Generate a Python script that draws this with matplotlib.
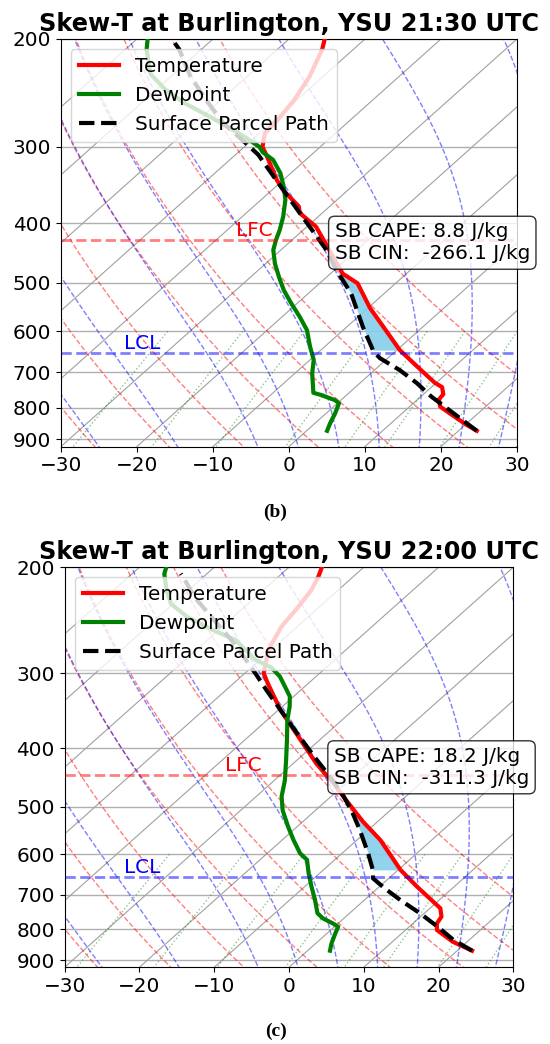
import numpy as np
import matplotlib
matplotlib.use('Agg')
import matplotlib.pyplot as plt
from matplotlib.transforms import Affine2D
from matplotlib.collections import LineCollection
from matplotlib.ticker import NullLocator

plt.rcParams['font.size'] = 14.4

# ---- panel (b): 21:30 UTC ----
title_b = 'Skew-T at Burlington, YSU 21:30 UTC'
p_temp_b = [872, 853, 817, 796, 775, 760, 740, 728, 685, 644, 590, 550, 501, 483, 437,
            405, 385, 375, 355, 340, 311, 300, 285, 271, 252, 230, 208, 200]
temp_b = [22.4, 20.2, 16.3, 14.0, 12.8, 12.6, 11.4, 9.8, 5.1, 0.4, -5.2, -9.7, -15.0, -18.4, -24.3,
          -28.8, -32.9, -34.1, -38.1, -40.8, -45.6, -47.6, -49.3, -49.6, -50.3, -51.8, -54.1, -55.3]
p_dew_b = [872, 848, 817, 786, 777, 762, 756, 729, 703, 668, 636, 597, 568, 540, 514, 489, 465,
           442, 426, 410, 390, 366, 348, 331, 315, 306, 300, 285, 268, 255, 242, 228, 208, 200]
dew_b = [2.7, 2.0, 1.2, 0.2, -0.8, -3.4, -4.7, -6.2, -7.7, -9.5, -11.9, -14.8, -17.7, -20.8, -23.7,
         -26.3, -28.8, -31.0, -32.1, -33.1, -34.6, -36.8, -39.0, -41.4, -44.3, -46.8, -48.0, -52.7,
         -58.9, -64.1, -68.8, -73.1, -77.2, -78.6]
p_parcel_b = [872, 767, 729, 694, 664, 648, 590, 520, 477, 442, 385, 348, 309, 296, 275, 252, 230, 208, 200]
parcel_b = [22.4, 11.4, 7.5, 3.3, -1.0, -2.8, -7.9, -14.4, -19.7, -24.0, -32.9, -39.4, -47.0, -50.3,
            -56.1, -61.8, -67.5, -72.9, -75.4]
lcl_b, lfc_b = 650, 426
cape_b, cin_b = 8.8, -266.1
shade_b = (644, 480)

# ---- panel (c): 22:00 UTC ----
title_c = 'Skew-T at Burlington, YSU 22:00 UTC'
p_temp_c = [868, 839, 802, 782, 762, 738, 720, 679, 637, 568, 530, 488, 457, 424, 387, 345,
            312, 300, 274, 251, 233, 218, 207, 200]
temp_c = [22.0, 18.1, 14.2, 13.2, 12.8, 11.4, 9.5, 5.0, 0.3, -6.9, -11.9, -17.4, -21.7, -26.9,
          -32.6, -39.8, -45.4, -47.5, -50.4, -52.1, -52.8, -53.6, -54.7, -55.6]
p_dew_c = [868, 844, 812, 792, 782, 767, 752, 715, 679, 645, 613, 598, 568, 540, 507, 481, 452,
           418, 387, 359, 341, 328, 316, 304, 294, 285, 264, 254, 242, 230, 218, 205, 200]
dew_c = [3.0, 2.1, 1.1, 0.5, -0.7, -2.8, -4.3, -6.6, -9.1, -11.5, -13.7, -15.6, -18.5, -21.2,
         -24.4, -26.6, -28.6, -31.5, -34.4, -37.3, -39.0, -40.5, -42.6, -44.8, -47.2, -50.6,
         -56.3, -60.9, -66.1, -70.3, -73.0, -75.7, -76.4]
p_parcel_c = [868, 833, 792, 752, 715, 684, 658, 637, 598, 547, 507, 481, 452, 418, 383, 345,
              320, 302, 268, 242, 224, 210, 205]
parcel_c = [22.0, 17.9, 13.8, 9.4, 4.8, 1.0, -2.1, -3.4, -6.5, -11.1, -15.2, -18.3, -22.2, -27.4,
            -33.1, -39.8, -44.6, -48.2, -55.8, -62.9, -68.2, -72.0, -73.5]
lcl_c, lfc_c = 655, 443
cape_c, cin_c = 18.2, -311.3
shade_c = (637, 480)

p_ticks = [200, 300, 400, 500, 600, 700, 800, 900]
t_ticks = [-30, -20, -10, 0, 10, 20, 30]


# thermodynamic helpers for the background reference lines
def dry_lines(t0, p):
    return [(t + 273.15) * (p / 1000.) ** 0.2857 - 273.15 for t in t0]


def moist_lines(t0, p_lo=1050., p_hi=100.):
    Rd, Cp, Lv, eps = 287.04, 1005.7, 2.501e6, 0.622

    def f(T, pp):
        es = 6.112 * np.exp(17.67 * (T - 273.15) / (T - 29.65))
        rs = eps * es / (pp - es)
        return (Rd * T + Lv * rs) / (Cp + Lv * Lv * rs * eps / (Rd * T * T))

    def integ(T, lnp0, lnp1, n=120):
        h = (lnp1 - lnp0) / n
        out_p, out_t = [np.exp(lnp0)], [T]
        lp = lnp0
        for _ in range(n):
            k1 = f(T, np.exp(lp))
            k2 = f(T + h * k1 / 2, np.exp(lp + h / 2))
            k3 = f(T + h * k2 / 2, np.exp(lp + h / 2))
            k4 = f(T + h * k3, np.exp(lp + h))
            T = T + h * (k1 + 2 * k2 + 2 * k3 + k4) / 6
            lp += h
            out_p.append(np.exp(lp))
            out_t.append(T)
        return np.array(out_p), np.array(out_t)

    segs = []
    for t in t0:
        pa, ta = integ(t + 273.15, np.log(1000.), np.log(p_hi))
        pb, tb = integ(t + 273.15, np.log(1000.), np.log(p_lo), 10)
        pp = np.concatenate([pb[::-1], pa[1:]])
        tt = np.concatenate([tb[::-1], ta[1:]]) - 273.15
        segs.append(np.column_stack([tt, pp]))
    return segs


def mixing_lines(w, p):
    out = []
    for wi in w:
        e = p * wi / (0.622 + wi)
        lg = np.log(e / 6.112)
        out.append(243.5 * lg / (17.67 - lg))
    return out


def draw_panel(ax, title, p_t, t, p_d, td, p_pc, pc, lcl, lfc, cape, cin, shade):
    ax.set_yscale('log')
    ax.set_xlim(-30, 30)
    ax.set_ylim(925, 200)
    skew = ax.transScale + (ax.transLimits + Affine2D().skew_deg(45, 0)) + ax.transAxes

    # skewed isotherm grid + pressure grid
    iso = [np.column_stack([[tt, tt], [1050, 100]]) for tt in range(-110, 40, 10)]
    ax.add_collection(LineCollection(iso, colors='#a0a0a0', linewidths=0.8, transform=skew), autolim=False)
    for pp in p_ticks:
        ax.axhline(pp, color='#b0b0b0', lw=1.0, zorder=1)

    pl = np.linspace(1050, 100, 60)
    dry = dry_lines(np.arange(-40, 51, 10), pl)
    ax.add_collection(LineCollection([np.column_stack([d, pl]) for d in dry], colors='r',
                                     linestyles='dashed', alpha=0.5, linewidths=1.0,
                                     transform=skew), autolim=False)
    t0m = np.concatenate((np.arange(-40, 0, 10), np.arange(0, 51, 5)))
    ax.add_collection(LineCollection(moist_lines(t0m), colors='b', linestyles='dashed',
                                     alpha=0.5, linewidths=1.0, transform=skew), autolim=False)
    pm = np.linspace(600, 1050, 40)
    mix = mixing_lines([0.0004, 0.001, 0.002, 0.004, 0.007, 0.01, 0.016, 0.024, 0.032], pm)
    ax.add_collection(LineCollection([np.column_stack([m, pm]) for m in mix], colors='g',
                                     linestyles='dotted', alpha=0.45, linewidths=1.0,
                                     transform=skew), autolim=False)

    # CIN shading between parcel and environment
    ps = np.geomspace(shade[0], shade[1], 40)
    te = np.interp(-np.log(ps), -np.log(p_t), t)
    tp = np.interp(-np.log(ps), -np.log(p_pc), pc)
    ax.fill_betweenx(ps, tp, te, where=te >= tp, color='skyblue', alpha=0.9,
                     transform=skew, zorder=2, lw=0)

    ax.plot(t, p_t, color='red', lw=3, label='Temperature', transform=skew, zorder=3)
    ax.plot(td, p_d, color='green', lw=3, label='Dewpoint', transform=skew, zorder=3)
    ax.plot(pc, p_pc, 'k--', lw=3, label='Surface Parcel Path', transform=skew, zorder=3)

    ax.axhline(lfc, color='red', ls='--', lw=2, alpha=0.5, zorder=3)
    ax.axhline(lcl, color='blue', ls='--', lw=2, alpha=0.5, zorder=3)
    ax.text(-35, lfc, 'LFC', color='red', ha='center', va='bottom', transform=skew)
    ax.text(-33.2, lcl, 'LCL', color='blue', ha='center', va='bottom', transform=skew)

    ax.text(0.6, 0.5, f'SB CAPE: {cape} J/kg\nSB CIN:  {cin} J/kg', transform=ax.transAxes,
            ha='left', va='center', zorder=6,
            bbox=dict(boxstyle='round', facecolor='white', edgecolor='black', alpha=0.8))

    ax.set_yticks(p_ticks)
    ax.set_yticklabels([str(v) for v in p_ticks])
    ax.yaxis.set_minor_locator(NullLocator())
    ax.set_xticks(t_ticks)
    ax.set_xlim(-30, 30)
    ax.set_ylim(925, 200)
    ax.legend(loc='upper left')
    ax.set_title(title, fontweight='bold')


fig = plt.figure(figsize=(5.5, 10.44), dpi=100)
ax1 = fig.add_axes([61 / 550, 1 - 446.5 / 1044, 456 / 550, 407.5 / 1044])
ax2 = fig.add_axes([64.6 / 550, 1 - 967.3 / 1044, 448.7 / 550, 400 / 1044])

draw_panel(ax1, title_b, p_temp_b, temp_b, p_dew_b, dew_b, p_parcel_b, parcel_b,
           lcl_b, lfc_b, cape_b, cin_b, shade_b)
draw_panel(ax2, title_c, p_temp_c, temp_c, p_dew_c, dew_c, p_parcel_c, parcel_c,
           lcl_c, lfc_c, cape_c, cin_c, shade_c)

fig.text(275 / 550, 1 - 512 / 1044, '(b)', ha='center', va='center',
         family=['Liberation Serif', 'DejaVu Serif'], weight='bold', fontsize=14)
fig.text(276 / 550, 1 - 1031 / 1044, '(c)', ha='center', va='center',
         family=['Liberation Serif', 'DejaVu Serif'], weight='bold', fontsize=14)

fig.savefig('out.png', dpi=100, facecolor='white')
